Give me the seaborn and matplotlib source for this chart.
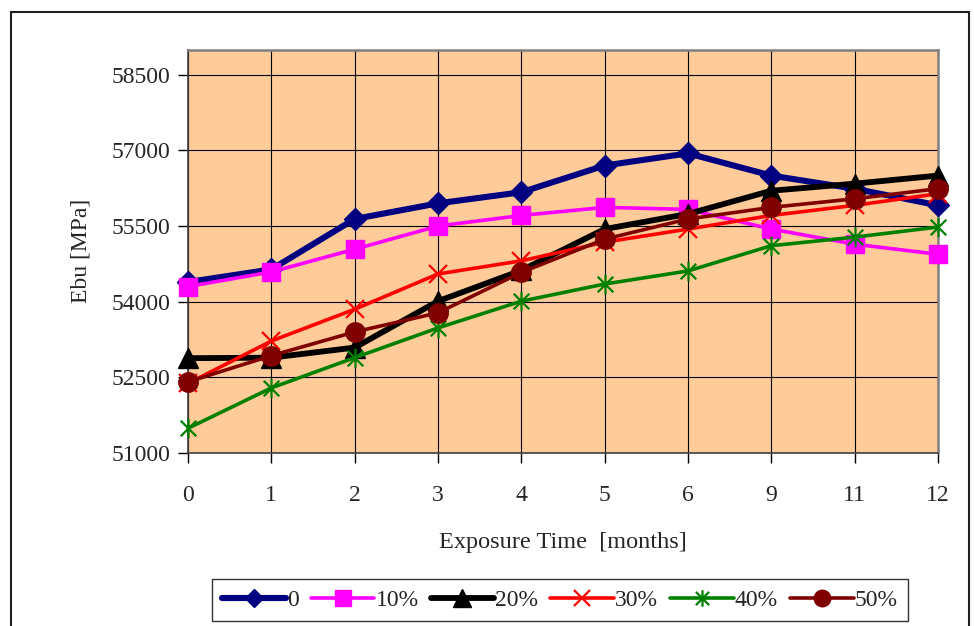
import numpy as np
import pandas as pd
import matplotlib
matplotlib.use("Agg")
import matplotlib.pyplot as plt
from matplotlib.path import Path
from matplotlib.patches import Rectangle
import seaborn as sns

# ---- data ----
months = ["0", "1", "2", "3", "4", "5", "6", "9", "11", "12"]
series_names = ["0", "10%", "20%", "30%", "40%", "50%"]
s0 = [54390, 54640, 55640, 55950, 56170, 56700, 56940, 56500, 56240, 55910]
s10 = [54300, 54590, 55040, 55500, 55710, 55870, 55830, 55440, 55140, 54940]
s20 = [52880, 52890, 53090, 54010, 54620, 55440, 55740, 56200, 56340, 56500]
s30 = [52380, 53220, 53850, 54550, 54810, 55180, 55440, 55710, 55910, 56140]
s40 = [51490, 52290, 52890, 53480, 54010, 54350, 54610, 55110, 55280, 55480]
s50 = [52410, 52930, 53400, 53780, 54580, 55240, 55640, 55870, 56040, 56240]
y_ticks = [51000, 52500, 54000, 55500, 57000, 58500]

values = [s0, s10, s20, s30, s40, s50]

sns.set_style("ticks")
plt.rcParams["font.family"] = ["Liberation Serif", "DejaVu Serif"]
plt.rcParams["font.size"] = 17

asterisk = Path(
    [(-1, -1), (1, 1), (-1, 1), (1, -1), (0, -1.25), (0, 1.25)],
    [Path.MOVETO, Path.LINETO, Path.MOVETO, Path.LINETO, Path.MOVETO, Path.LINETO],
)

styles = [
    dict(color="#000080", marker="D", lw=4.4, ms=11, mew=1),
    dict(color="#FF00FF", marker="s", lw=2.6, ms=13, mew=1),
    dict(color="#000000", marker="^", lw=4.2, ms=15, mew=1),
    dict(color="#FF0000", marker="x", lw=2.6, ms=13, mew=1.6),
    dict(color="#008000", marker=asterisk, lw=2.6, ms=14, mew=1.6),
    dict(color="#800000", marker="o", lw=2.6, ms=14, mew=1),
]

rows = []
for name, vals in zip(series_names, values):
    for i, (m, v) in enumerate(zip(months, vals)):
        rows.append({"pos": i, "month": m, "Ebu": v, "series": name})
df = pd.DataFrame(rows)

fig = plt.figure(figsize=(9.74, 6.26), dpi=100)
ax = fig.add_axes([188 / 974, 1 - 453 / 626, (938 - 188) / 974, (453 - 49.5) / 626])
ax.set_facecolor("#FFCC99")

for name, st in zip(series_names, styles):
    sub = df[df["series"] == name]
    sns.lineplot(
        data=sub, x="pos", y="Ebu", ax=ax, color=st["color"], linewidth=st["lw"],
        marker=st["marker"], markersize=st["ms"], markeredgewidth=st["mew"],
        markeredgecolor=st["color"], markerfacecolor=st["color"],
        label=name, legend=False, zorder=3, clip_on=False,
    )

ax.set_xlim(0, len(months) - 1)
ax.set_ylim(51000, 59000)
ax.set_xticks(range(len(months)))
ax.set_xticklabels(months)
ax.set_yticks(y_ticks)
ax.set_yticklabels([str(t) for t in y_ticks])
ax.grid(True, color="black", linewidth=0.8)
ax.set_axisbelow(True)
ax.tick_params(axis="both", direction="out", length=7, width=1, color="black",
               labelsize=17, pad=6)
ax.tick_params(axis="x", pad=16)

for side in ["top", "right"]:
    ax.spines[side].set_visible(True)
    ax.spines[side].set_color("#808080")
    ax.spines[side].set_linewidth(1.8)
for side in ["left", "bottom"]:
    ax.spines[side].set_color("#404040")
    ax.spines[side].set_linewidth(1.2)

ax.set_xlabel("Exposure Time  [months]", fontsize=17.5, labelpad=19)
ax.set_ylabel("Ebu [MPa]", fontsize=17, labelpad=14)

handles, labels = ax.get_legend_handles_labels()
leg = fig.legend(handles, labels, loc="center", bbox_to_anchor=(560 / 974, 1 - 600 / 626),
                 ncol=6, frameon=True, fancybox=False, edgecolor="black",
                 fontsize=17, handlelength=2.7, handletextpad=0.05, columnspacing=0.5,
                 borderpad=0.45, markerscale=0.85)
leg.get_frame().set_linewidth(1.0)

fig.patches.append(Rectangle((11 / 974, -0.1), (969 - 11) / 974, 1.1 - 12 / 626,
                             transform=fig.transFigure, fill=False,
                             edgecolor="#202020", linewidth=1.5))

fig.savefig("out.png", dpi=100)
